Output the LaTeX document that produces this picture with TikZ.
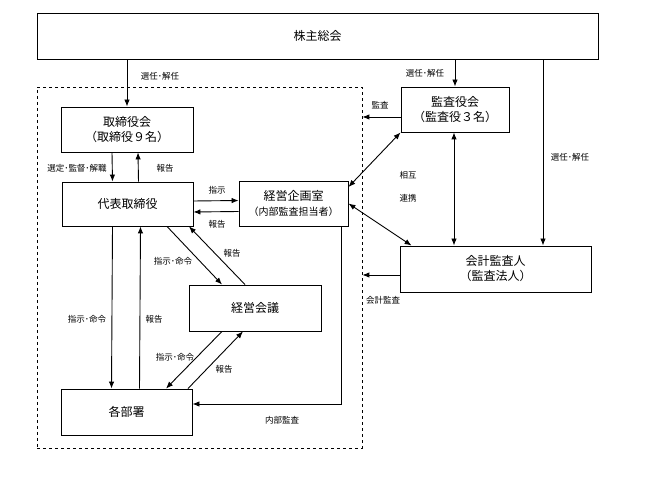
\documentclass[tikz,border=0pt]{standalone}
\usepackage{fontspec}
\setmainfont{Noto Sans CJK JP}
\usetikzlibrary{arrows.meta,calc}

\begin{document}
\begin{tikzpicture}[x=1pt, y=-1pt,
    box/.style={draw, line width=0.9pt, align=center, inner sep=0pt, font=\fontsize{12}{15}\selectfont},
    lbl/.style={font=\fontsize{8.5}{9}\selectfont},
    link/.style={line width=0.9pt, -{Latex[length=7pt,width=5.5pt]}},
    both/.style={line width=0.9pt, {Latex[length=7pt,width=5.5pt]}-{Latex[length=7pt,width=5.5pt]}}]
    \useasboundingbox (0,0) rectangle (646,478);
    \node[draw, dashed, line width=0.8pt, minimum width=325pt, minimum height=361pt] (group) at (199.5,267.5) {};
    \node[box, minimum width=561pt, minimum height=46pt] (soukai) at (317.5,36) {株主総会};
    \node[box, minimum width=132pt, minimum height=45pt] (torikai) at (127,129.5) {取締役会\\（取締役９名）};
    \node[box, minimum width=131pt, minimum height=44pt] (daihyo) at (127.5,204) {代表取締役};
    \node[box, minimum width=109pt, minimum height=45pt] (kikaku) at (293.5,203.5) {経営企画室\\{\fontsize{10}{12}\selectfont（内部監査担当者）}};
    \node[box, minimum width=132pt, minimum height=46pt] (kaigi) at (255,308) {経営会議};
    \node[box, minimum width=131pt, minimum height=46pt] (busho) at (126.5,412) {各部署};
    \node[box, minimum width=108pt, minimum height=45pt] (kansa) at (455,109.5) {監査役会\\（監査役３名）};
    \node[box, minimum width=191pt, minimum height=46pt] (kaikei) at (495.5,269) {会計監査人\\（監査法人）};
    \coordinate (kaikei-in) at ([xshift=47.5pt]kaikei.north);
    \coordinate (kansa-out) at ([yshift=-7.5pt]kansa.west);
    \coordinate (kaikei-out) at ([yshift=-6pt]kaikei.west);

    \draw[link] (torikai |- soukai.south) -- (torikai.north);
    \draw[link] (kansa |- soukai.south) -- (kansa.north);
    \draw[link] (kaikei-in |- soukai.south) -- (kaikei-in);
    \draw[link] ([xshift=-15pt]torikai.south) -- ([xshift=-15pt]daihyo.north);
    \draw[link] ([xshift=11pt]daihyo.north) -- ([xshift=11pt]torikai.south);
    \draw[link] ([yshift=3pt]daihyo.east) -- ([yshift=3pt]kikaku.west);
    \draw[link] ([yshift=-8pt]kikaku.west) -- ([yshift=-8pt]daihyo.east);
    \draw[link] ([xshift=39.5pt]daihyo.south) -- ([xshift=-33pt]kaigi.north);
    \draw[link] ([xshift=-10pt]kaigi.north) -- ([xshift=61.5pt]daihyo.south);
    \draw[link] ([xshift=-33pt]kaigi.south) -- ([xshift=39.5pt]busho.north);
    \draw[link] ([xshift=61.5pt]busho.north) -- ([xshift=-12pt]kaigi.south);
    \draw[link] ([xshift=-15pt]daihyo.south) -- ([xshift=-15pt]busho.north);
    \draw[link] ([xshift=13pt]busho.north) -- ([xshift=13pt]daihyo.south);
    \draw[link] ([xshift=47.5pt]kikaku.south) |- ([yshift=8pt]busho.east);
    \draw[link] (kansa-out) -- (group.east |- kansa-out);
    \draw[link] (kaikei-out) -- (group.east |- kaikei-out);
    \draw[both] (kansa.south west) -- ([yshift=16.5pt]kikaku.east);
    \draw[both] (kikaku.east) -- ([xshift=12pt]kaikei.north west);
    \draw[both] ([xshift=-1pt]kansa.south) -- ([xshift=-1pt]kansa.south |- kaikei.north);

    \node[lbl] (l1) at (160,76) {選任･解任};
    \node[lbl] (l2) at (425,73) {選任･解任};
    \node[lbl] (l3) at (570,157) {選任･解任};
    \node[lbl] (l4) at (77,168) {選定･監督･解職};
    \node[lbl] (l5) at (165,168) {報告};
    \node[lbl] (l6) at (217,190) {指示};
    \node[lbl] (l7) at (217,224) {報告};
    \node[lbl] (l8) at (173,261) {指示･命令};
    \node[lbl] (l9) at (232,253) {報告};
    \node[lbl] (l10) at (87,319) {指示･命令};
    \node[lbl] (l11) at (154,319) {報告};
    \node[lbl] (l12) at (175,357) {指示･命令};
    \node[lbl] (l13) at (224,369) {報告};
    \node[lbl] (l14) at (282,420) {内部監査};
    \node[lbl] (l15) at (380,105) {監査};
    \node[lbl] (l16) at (383,300) {会計監査};
    \node[lbl] (l17) at (408,175) {相互};
    \node[lbl] (l18) at (408,198) {連携};
\end{tikzpicture}
\end{document}
